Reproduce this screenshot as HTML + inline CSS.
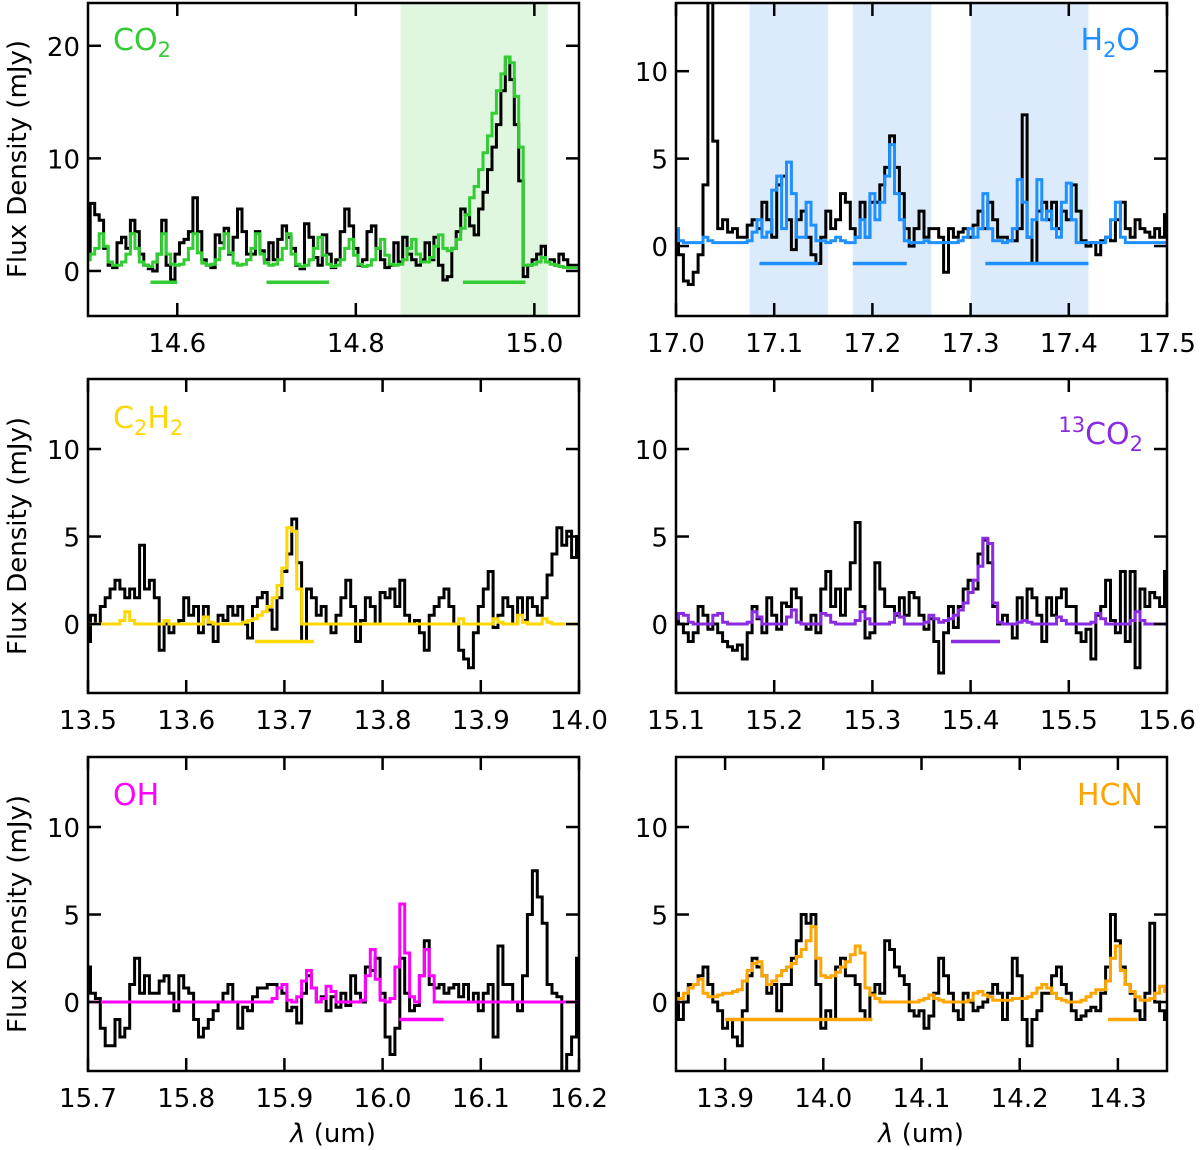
<!DOCTYPE html>
<html><head><meta charset="utf-8"><style>
body{margin:0;background:#fff}
svg{display:block;font-family:"DejaVu Sans","Liberation Sans",sans-serif}
</style></head><body>
<svg id="fig" width="1200" height="1150" viewBox="0 0 1200 1150" xmlns="http://www.w3.org/2000/svg"></svg>
<script>
// ---- data arrays (wavelength grid: start + 0.005*i) ----
const co2Data=[1.5,6,5,4.5,2,0.5,0.3,2.5,3,2,4.5,3.5,1.5,0.5,0.2,0,1.5,4.5,0.5,-0.8,1.5,2.5,2.8,3.5,6.5,3.5,1,0.5,0.3,3.2,2.5,3.8,1.5,3,5.5,3.5,1.5,1.5,3.5,1.8,1,2.5,1,2.8,4,3,2,0.5,0.2,4.2,3,1.2,0.5,3.2,1.5,0.3,1,3.5,5.5,4,2,0.5,1,3.5,4,2,1,0.3,0.5,2.5,0.8,3,1.5,1,0.5,1,2.5,1,3,0.5,-0.8,-0.5,2,3.5,5.5,5,4,3.2,5.5,7,9,11,13,16,19,17,13,8,-0.5,0.5,1,1.5,2.2,0.8,1,0.5,1.5,1,0.5,0.5,0.5];
const co2Model=[1,1.5,2,3.3,2.2,0.8,0.5,0.5,0.8,1.5,3.3,2,0.8,0.5,0.4,0.8,1.5,3.3,1.5,0.6,0.5,0.6,1,2,3.3,1.6,0.7,0.5,0.6,1,2,3.3,1.6,0.7,0.5,0.6,1,2,3.3,1.5,0.7,0.5,0.6,1,2,3.3,1.5,0.6,0.4,0.5,1,2,3,1.4,0.6,0.4,0.5,1,2,2.8,1.4,0.6,0.4,0.5,1,2,2.8,1.4,0.6,0.5,0.6,1,2,2.8,1.5,0.8,0.8,1.2,2.2,3.2,2,1.8,2,2.8,3.8,5,6.5,7.5,9,10.5,12,14,16,17.5,19,18.5,15.5,11,0.5,0.5,0.6,0.8,1.2,0.8,0.6,0.5,0.4,0.3,0.3,0.3,0.3];
const h2oData=[0.5,-0.5,-2,-2.2,-1.5,-0.5,3.5,14,6,1,1.5,0.8,1,0.5,0.5,1.2,1.5,1,2.5,1.5,0.5,3.5,4,1.5,-0.2,1.5,2,0.5,-0.5,-1,0.5,2,1,1.5,3,2.5,1,0.5,2.5,0.5,2.5,2.5,3.5,4.5,6.3,4.5,3,1,0,1,2,0.5,1,1,0.5,-1.5,1,0.5,0.8,1,0.5,1.2,2,1,2.5,1.5,0.5,0.5,0.3,0.3,1,7.5,0.5,-1,2,2.5,1.5,2.5,1,2,1.5,3.5,2,0.3,0,0.2,-0.5,0.3,0.5,0.3,1.5,2.5,1,0.5,1.5,1,0.8,0.5,1,0.5,1.8];
const h2oModel=[1,0.3,0.2,0.2,0.2,0.2,0.5,0.3,0.2,0.2,0.2,0.2,0.2,0.2,0.2,0.3,0.8,1.5,0.5,0.8,3.2,4,1,4.8,3,0.5,0.5,2.5,1.2,0.3,0.3,0.2,0.3,0.5,0.3,0.2,0.2,0.5,1.5,0.5,3,1.5,2.5,4,5.8,3,1.5,0.3,0.2,0.2,0.2,0.3,0.2,0.2,0.2,0.2,0.2,0.2,0.3,0.5,1,0.5,1,3,1,0.3,0.3,0.2,0.3,1,3.8,2.5,0.5,1.5,3.8,1.5,2,1,0.5,2.5,3.6,1.5,0.2,0.2,0.2,0.2,0.2,0.2,0.5,1.5,2.5,0.5,0.2,0.2,0.2,0.2,0.2,0.2,0.2,0.2,0.2];
const c2h2Data=[-1,0.5,0,1,1.5,2,2.5,2,1.5,2,1.5,4.5,2,2.5,1.5,-1.5,0,-0.5,0,0.2,1.5,0.5,1,-0.5,1,0,-1,0.5,0.2,1,0.5,1,0,-0.8,1,1.5,1.8,0.8,-0.3,1.5,3,4,6,3.5,-1,2,1.5,0.5,1,0,-0.5,0.5,1.5,2.5,1,-1,0.2,1.5,1,0,1.8,1.5,2,1,2.5,0.5,0,0.2,-0.5,-1.5,0.5,1,1.5,2,1,0,-1.5,-2,-2.5,-0.5,1,2,3,-0.2,0.5,1.5,1,0,1.5,0.2,1.5,1,0.5,1.5,2.8,4,5.5,4.5,5.3,3.8,5];
const c2h2Model=[0,0,0,0,0,0,0,0.2,0.7,0.2,0,0,0,0,0,0,0.2,0,0,0,0,0,0,0,0.4,0.1,0,0,0,0,0,0,0.1,0.2,0.3,0.5,0.7,1,1.5,2.2,3.2,5.5,5.3,2,0,0,0,0,0,0,0,0,0,0,0,0,0,0,0,0,0,0,0,0,0,0,0,0,0,0,0,0,0,0,0,0,0.3,0,0,0,0,0,0,0.3,0.1,0,0,0,0.5,0.1,0,0,0,0.3,0.1,0,0,0,0,0,0];
const co13Data=[0.5,0,-0.5,-1,-0.5,1,0.5,-0.3,0,-0.5,-1,-1.3,-1.5,-1.2,-2,-0.5,1,0.3,-0.5,1.5,0.5,-0.3,1.2,1,2,1.5,0,-0.3,0.5,-0.5,2,3,1,2,0.5,2,3.5,5.8,1,-0.8,-0.5,3.5,2,1,1,0.5,1.5,0.5,1.8,1.5,0.5,-0.3,0.3,-1,-2.8,-0.5,1,-0.2,1,2,2.5,2,4,4.8,3.5,1,0,0.5,0,-0.8,1.5,0.2,2,1.5,0.5,-1,1.5,0.5,1.5,2,1,1,-0.5,-1,-0.3,-2,0.5,1,2.5,0.2,-0.5,3,-1,3,-2.5,2,1,1.8,1.5,1,3];
const co13Model=[0.3,0.6,0.5,0.1,0,0,0,0,0.5,0.6,0.1,0,0,0,0,0.1,0.7,0.4,0,0,0,0,0,0.4,0.8,0.1,0,0,0,0,0.6,0.5,0.1,0,0,0,0,0.2,0.7,0.3,0,0,0,0,0.1,0.6,0.4,0,0,0,0,0.1,0.5,0.3,0.1,0.2,0.3,0.5,0.8,1.2,1.8,2.5,3.3,4.9,4.6,1.2,0.1,0,0,0,0.1,0.2,0.1,0,0,0,0,0,0.4,0.2,0,0,0,0,0,0.1,0.6,0.3,0,0,0,0,0,0.2,0.7,0.2,0,0,0,0,0];
const ohData=[2,0.5,0.2,-1.5,-2.5,-2.5,-1,-2,-1.5,1,2.5,0.5,1.5,0.5,0.5,1.2,1.5,0.5,-0.5,1.5,0.8,0.5,-1,-2,-1.5,-1,-0.5,0,0.5,1,0,-1.5,-0.3,-0.5,0.3,0.8,0.8,1,1,0.8,0.5,-0.5,-0.3,-1.2,0.5,1.5,0.8,0,0.3,-0.5,0.3,-0.3,0.5,-0.2,1.5,0.5,0,2,1.8,2.5,0.5,-2,-3,-1.5,2.5,0.5,-0.5,-0.2,1.5,3.5,1,0.8,1,0.5,0.8,1,0.3,1,0,0.5,-0.5,0.5,1,-2,3.2,1,1,0,-0.5,1.5,5,7.5,6,4.5,1,0.5,0.3,-5,-3,-2,2.5];
const ohModel=[0,0,0,0,0,0,0,0,0,0,0,0,0,0,0,0,0,0,0,0,0,0,0,0,0,0,0,0,0,0,0,0,0,0,0,0,0,0,0.2,0.8,1,0.1,0,0.3,1.2,1.8,0.8,0,0.2,0.9,0.6,0,0,0,0,0,0.1,1.5,3,1.3,0.1,0,0.2,2,5.6,2.8,0.3,0,1.5,3,1.5,0,0,0,0,0,0,0,0,0,0,0,0,0,0,0,0,0,0,0,0,0,0,0,0,0,0,0,0,0,0];
const hcnData=[0.5,-1,0,1,1,1.5,2,1,0,-0.5,-1.5,-1,-2,-2.5,-0.5,1.5,2.5,2,1.5,0.5,1,-0.5,1,1,2.5,3.5,5,4.5,5,1,-1.5,-0.5,-1,2,2.5,1.5,1.5,1,-0.5,-1,0.5,1,0.5,3.5,3,2,1.5,1,-0.5,-0.8,-0.5,-1.5,-0.8,0.5,2.5,1.5,0.5,-0.5,-1,0.5,0,-0.5,-0.3,0,0.5,1,0.5,-1,0.5,2.5,1.5,-1,-2.5,-1,-0.5,0.5,0.5,1.5,2,1,0.5,-0.5,-1,-0.8,-0.5,-0.3,-0.5,0.5,2,5,3.5,2,1,0.5,-0.5,-1,0.5,4.5,0,-0.5,-1];
const hcnModel=[0,0.2,0.5,0.8,1,1.3,0.5,0.3,0.3,0.4,0.5,0.5,0.6,0.7,1.2,1.8,2.2,2.3,1.5,1,1.2,1.5,1.8,2,2.2,2.6,3,3.5,4.3,2.5,1.5,1.4,1.5,1.7,2,2.3,2.7,3.2,2.8,0.8,0.4,0.2,0,0,0,0,0,0,0,0,0.1,0.2,0.4,0.2,0.1,0,0,0,0,0,0.1,0.5,0.6,0.4,0.3,0.1,0.1,0.1,0.1,0.2,0.2,0.2,0.3,0.5,0.8,1,0.8,0.5,0.2,0.1,0,0,0,0.1,0.3,0.5,0.7,0.7,1.2,2.5,3.2,1.8,1,0.6,0.3,0.1,0.1,0.2,0.5,0.9,0.6];
// tick labels
const ticksTL=["14.6","14.8","15.0"], ticksTR=["17.0","17.1","17.2","17.3","17.4","17.5"];
const ticksML=["13.5","13.6","13.7","13.8","13.9","14.0"], ticksMR=["15.1","15.2","15.3","15.4","15.5","15.6"];
const ticksBL=["15.7","15.8","15.9","16.0","16.1","16.2"], ticksBR=["13.9","14.0","14.1","14.2","14.3"];
const yTicksCO2=[0,10,20], yTicks=[0,5,10];
// bars [start,end] in um, shaded regions
const barsCO2=[[14.57,14.6],[14.7,14.77],[14.92,14.99]], shadeCO2=[[14.85,15.015]];
const barsH2O=[[17.085,17.145],[17.18,17.235],[17.315,17.42]], shadeH2O=[[17.075,17.155],[17.18,17.26],[17.3,17.42]];
const barsC2H2=[[13.67,13.73]], bars13=[[15.38,15.43]], barsOH=[[16.017,16.062]], barsHCN=[[13.9,14.05],[14.29,14.32]];

const NS="http://www.w3.org/2000/svg", svg=document.getElementById('fig');
function el(t,a,p){const e=document.createElementNS(NS,t);for(const k in a)e.setAttribute(k,a[k]);(p||svg).appendChild(e);return e;}
let pid=0;
function panel(o){
  pid++;
  const g=el('g',{});
  
  
  const X=v=>o.x0+(v-o.xmin)/(o.xmax-o.xmin)*(o.x1-o.x0);
  const Y=v=>o.y1-(v-o.ymin)/(o.ymax-o.ymin)*(o.y1-o.y0);
  const cp=el('clipPath',{id:'c'+pid},g); el('rect',{x:o.x0,y:o.y0,width:o.x1-o.x0,height:o.y1-o.y0},cp);
  const inner=el('g',{'clip-path':'url(#c'+pid+')'},g);
  (o.shade||[]).forEach(s=>{const r=el('rect',{x:X(s[0]),y:o.y0,width:X(s[1])-X(s[0]),height:o.y1-o.y0,fill:o.shadeCol},inner);
    
    });
  function step(arr,col,nm){
    let d='';const n=arr.length;
    for(let i=0;i<n;i++){const xc=o.start+0.005*i;const xa=X(xc-0.0025),xb=X(xc+0.0025),y=Y(arr[i]);
      d+=(i?'L':'M')+xa.toFixed(1)+','+y.toFixed(1)+'L'+xb.toFixed(1)+','+y.toFixed(1);}
    const p=el('path',{d:d,fill:'none',stroke:col,'stroke-width':3,'stroke-linejoin':'miter'},inner);
    
    
  }
  step(o.data,'#000','observed-spectrum');
  step(o.model,o.col,'model-spectrum');
  o.bars.forEach(b=>{const l=el('line',{x1:X(b[0]),x2:X(b[1]),y1:Y(-1),y2:Y(-1),stroke:o.col,'stroke-width':3.5},inner);
    
    });
  el('rect',{x:o.x0,y:o.y0,width:o.x1-o.x0,height:o.y1-o.y0,fill:'none',stroke:'#000','stroke-width':2.5},g);
  o.xt.forEach(t=>{const x=X(parseFloat(t));
    el('line',{x1:x,x2:x,y1:o.y1,y2:o.y1-13,stroke:'#000','stroke-width':2.5},g);
    el('line',{x1:x,x2:x,y1:o.y0,y2:o.y0+13,stroke:'#000','stroke-width':2.5},g);
    const tx=el('text',{x:x,y:o.y1+36,'font-size':26,'text-anchor':'middle'},g);tx.textContent=t;
    
    });
  o.yt.forEach(t=>{const y=Y(t);
    el('line',{x1:o.x0,x2:o.x0+13,y1:y,y2:y,stroke:'#000','stroke-width':2.5},g);
    el('line',{x1:o.x1,x2:o.x1-13,y1:y,y2:y,stroke:'#000','stroke-width':2.5},g);
    const tx=el('text',{x:o.x0-8,y:y+10,'font-size':26,'text-anchor':'end'},g);tx.textContent=t;
    
    });
  const lb=el('text',{x:o.lx,y:o.ly,'font-size':30,fill:o.col,'text-anchor':o.la},g);
  lb.innerHTML=o.label;
  
  
}
const sub='<tspan font-size="21" dy="7">2</tspan>';
panel({name:'co2',x0:88,x1:579,y0:3,y1:316,xmin:14.5,xmax:15.05,ymin:-4,ymax:23.8,start:14.5,data:co2Data,model:co2Model,col:'#32cd32',shade:shadeCO2,shadeCol:'#dff6df',bars:barsCO2,xt:ticksTL,yt:yTicksCO2,label:'CO'+sub,lx:113,ly:50,la:'start'});
panel({name:'h2o',x0:676,x1:1167,y0:3,y1:316,xmin:17.0,xmax:17.5,ymin:-4,ymax:13.9,start:17.0,data:h2oData,model:h2oModel,col:'#1e90ff',shade:shadeH2O,shadeCol:'#dbebfc',bars:barsH2O,xt:ticksTR,yt:yTicks,label:'H'+sub+'<tspan dy="-7">O</tspan>',lx:1140,ly:50,la:'end'});
panel({name:'c2h2',x0:88,x1:579,y0:379,y1:693,xmin:13.5,xmax:14.0,ymin:-3.94,ymax:14,start:13.5,data:c2h2Data,model:c2h2Model,col:'#ffd700',bars:barsC2H2,xt:ticksML,yt:yTicks,label:'C'+sub+'<tspan dy="-7">H</tspan>'+sub,lx:113,ly:428,la:'start'});
panel({name:'13co2',x0:676,x1:1167,y0:379,y1:693,xmin:15.1,xmax:15.6,ymin:-3.94,ymax:14,start:15.1,data:co13Data,model:co13Model,col:'#8a2be2',bars:bars13,xt:ticksMR,yt:yTicks,label:'<tspan font-size="21" dy="-12">13</tspan><tspan dy="12">CO</tspan>'+sub,lx:1143,ly:444,la:'end'});
panel({name:'oh',x0:88,x1:579,y0:757,y1:1071,xmin:15.7,xmax:16.2,ymin:-3.94,ymax:14,start:15.7,data:ohData,model:ohModel,col:'#ff00ff',bars:barsOH,xt:ticksBL,yt:yTicks,label:'OH',lx:113,ly:805,la:'start'});
panel({name:'hcn',x0:676,x1:1167,y0:757,y1:1071,xmin:13.85,xmax:14.35,ymin:-3.94,ymax:14,start:13.85,data:hcnData,model:hcnModel,col:'#ffa500',bars:barsHCN,xt:ticksBR,yt:yTicks,label:'HCN',lx:1143,ly:805,la:'end'});
[159,536,914].forEach(cy=>{const t=el('text',{x:0,y:0,'font-size':26,'text-anchor':'middle',transform:'translate(26,'+cy+') rotate(-90)'});t.textContent='Flux Density (mJy)';
  
  });
[333,921].forEach(cx=>{const t=el('text',{x:cx,y:1142,'font-size':26,'text-anchor':'middle'});t.innerHTML='<tspan font-style="italic">λ</tspan> (um)';
  
  });
</script>
</body></html>
